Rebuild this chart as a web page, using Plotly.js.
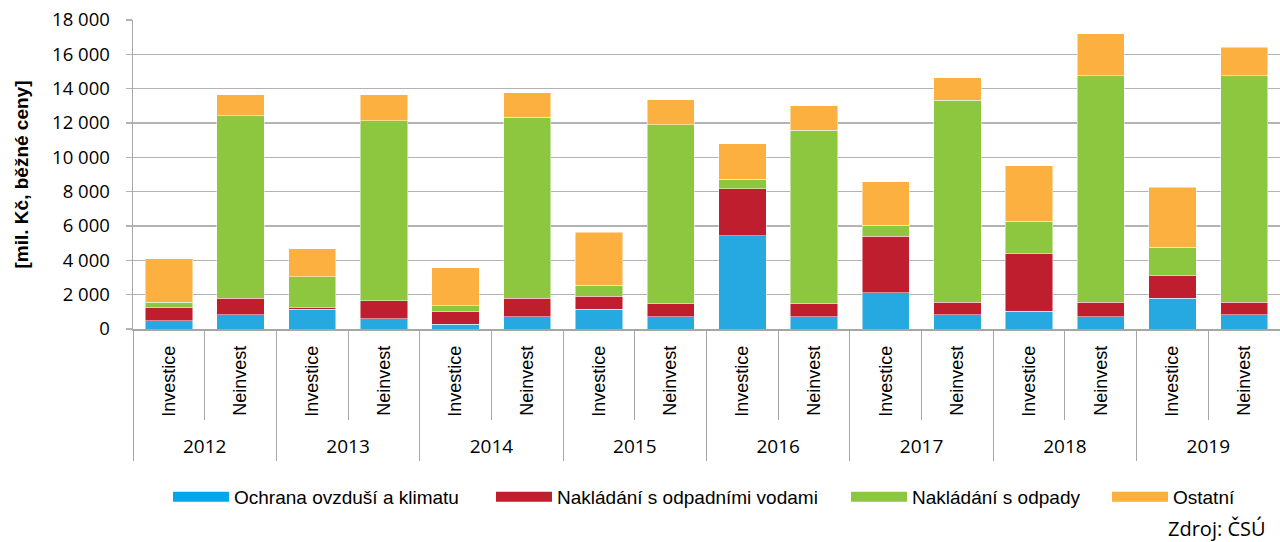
<!DOCTYPE html>
<html>
<head>
<meta charset="utf-8">
<script src="https://cdn.plot.ly/plotly-3.0.1.min.js"></script>
<style>html,body{margin:0;padding:0;background:#fff;}#chart{width:1280px;height:542px;}</style>
</head>
<body>
<div id="chart"></div>
<script>
const years = ['2012','2012','2013','2013','2014','2014','2015','2015','2016','2016','2017','2017','2018','2018','2019','2019'];
const types = ['Investice','Neinvest','Investice','Neinvest','Investice','Neinvest','Investice','Neinvest','Investice','Neinvest','Investice','Neinvest','Investice','Neinvest','Investice','Neinvest'];
const yearList = ['2012','2013','2014','2015','2016','2017','2018','2019'];
const flatLabels = years.map((y, i) => y + ' ' + types[i]);

const seriesNames = ['Ochrana ovzduší a klimatu', 'Nakládání s odpadními vodami', 'Nakládání s odpady', 'Ostatní'];
const ochrana     = [480, 830, 1160, 600, 270, 720, 1140, 720, 5430, 720, 2110, 830, 1020, 720, 1800, 830];
const odpadniVody = [760, 950, 100, 1060, 750, 1060, 760, 740, 2740, 740, 3300, 720, 3400, 830, 1320, 720];
const odpady      = [310, 10650, 1770, 10480, 340, 10560, 660, 10450, 540, 10120, 640, 11780, 1870, 13210, 1630, 13210];
const ostatni     = [2540, 1230, 1640, 1520, 2210, 1430, 3090, 1440, 2090, 1420, 2540, 1320, 3220, 2430, 3520, 1650];
const colors = ['#25a9e0', '#be1e2d', '#8dc63f', '#fbb040'];
const legendColors = ['#00a8e8', '#be1e2d', '#8dc63f', '#fbb040'];
const legendIds = ['legend', 'legend2', 'legend3', 'legend4'];

const allSeries = [ochrana, odpadniVody, odpady, ostatni];
const traces = allSeries.map((vals, i) => ({
  type: 'bar',
  name: seriesNames[i],
  x: flatLabels,
  y: vals,
  marker: {color: colors[i], line: {color: 'rgba(255,255,255,0.6)', width: 0.8}},
  showlegend: false,
  hoverinfo: 'y+name'
}));
// legend entries (wide swatches)
seriesNames.forEach((n, i) => traces.push({
  type: 'scatter', mode: 'lines', name: n, x: [null], y: [null], legend: legendIds[i],
  line: {color: legendColors[i], width: 14}, hoverinfo: 'skip', showlegend: true
}));
// helper traces for the axis decorations
traces.push({type: 'scatter', mode: 'markers', x: flatLabels, y: flatLabels.map(() => 0),
  xaxis: 'x2', marker: {opacity: 0}, showlegend: false, hoverinfo: 'skip'});
traces.push({type: 'scatter', mode: 'markers', x: yearList, y: yearList.map(() => 0),
  xaxis: 'x3', marker: {opacity: 0}, showlegend: false, hoverinfo: 'skip'});
traces.push({type: 'scatter', mode: 'markers', x: yearList, y: yearList.map(() => 0),
  xaxis: 'x4', marker: {opacity: 0}, showlegend: false, hoverinfo: 'skip'});

const gray = '#a6a6a6';
const legendBase = {
  orientation: 'h', xref: 'container', xanchor: 'left',
  yref: 'container', y: 1 - 497/542, yanchor: 'middle',
  font: {family: 'Liberation Sans, Arial, sans-serif', size: 19, color: '#000'},
  itemwidth: 56, bgcolor: 'rgba(0,0,0,0)'
};
const legendLeft = [168, 491, 846, 1107];

const layout = {
  width: 1280, height: 542,
  margin: {l: 133, r: 0, t: 20, b: 213},
  barmode: 'stack',
  bargap: 0.34,
  separators: ', ',
  paper_bgcolor: '#fff', plot_bgcolor: '#fff',
  font: {family: 'Liberation Sans, Arial, sans-serif', color: '#000'},
  xaxis: {
    type: 'category', range: [-0.5, 15.5],
    tickmode: 'array', tickvals: flatLabels, ticktext: types,
    showline: true, linecolor: gray, linewidth: 1.5,
    ticks: '', showgrid: false,
    tickangle: -90,
    ticklabelstandoff: 8,
    tickfont: {family: 'Liberation Sans, Arial, sans-serif', size: 18, color: '#000'}
  },
  xaxis2: {
    type: 'category', overlaying: 'x', anchor: 'y', side: 'bottom',
    range: [-0.5, 15.5], showticklabels: false,
    ticks: 'outside', tickson: 'boundaries', ticklen: 90, tickcolor: gray, tickwidth: 1,
    showgrid: false, showline: false, zeroline: false
  },
  xaxis3: {
    type: 'category', overlaying: 'x', anchor: 'y', side: 'bottom',
    range: [-0.5, 7.5], showticklabels: false,
    ticks: 'outside', tickson: 'boundaries', ticklen: 131, tickcolor: gray, tickwidth: 1,
    showgrid: false, showline: false, zeroline: false
  },
  xaxis4: {
    type: 'category', overlaying: 'x', anchor: 'y', side: 'bottom',
    range: [-0.5, 7.5], showticklabels: true, ticks: '',
    ticklabelstandoff: 104,
    tickfont: {family: 'Open Sans, sans-serif', size: 19, color: '#000'},
    showgrid: false, showline: false, zeroline: false
  },
  yaxis: {
    range: [0, 18000], dtick: 2000, tickformat: ',d',
    showgrid: true, gridcolor: '#b3b3b3', gridwidth: 1.5,
    zeroline: false,
    showline: true, linecolor: gray, linewidth: 1.5,
    ticks: 'outside', ticklen: 6, tickcolor: '#b3b3b3', tickwidth: 1.5,
    ticklabelstandoff: 12,
    tickfont: {family: 'Open Sans, sans-serif', size: 18.5, color: '#000'},
    title: {text: '[mil. Kč, běžné ceny]', font: {family: 'Liberation Sans, Arial, sans-serif', size: 19, color: '#000', weight: 'bold'}, standoff: 18}
  },
  showlegend: true,
  annotations: [{
    text: 'Zdroj: ČSÚ', xref: 'paper', yref: 'paper',
    x: (1268 - 133) / 1147, y: (329 - 528) / 309, xanchor: 'right', yanchor: 'middle',
    showarrow: false, font: {family: 'Open Sans, sans-serif', size: 20, color: '#000'}
  }]
};
legendIds.forEach((id, i) => {
  layout[id] = Object.assign({}, legendBase, {x: legendLeft[i] / 1280});
});

Plotly.newPlot('chart', traces, layout, {displayModeBar: false, staticPlot: true});
</script>
</body>
</html>
